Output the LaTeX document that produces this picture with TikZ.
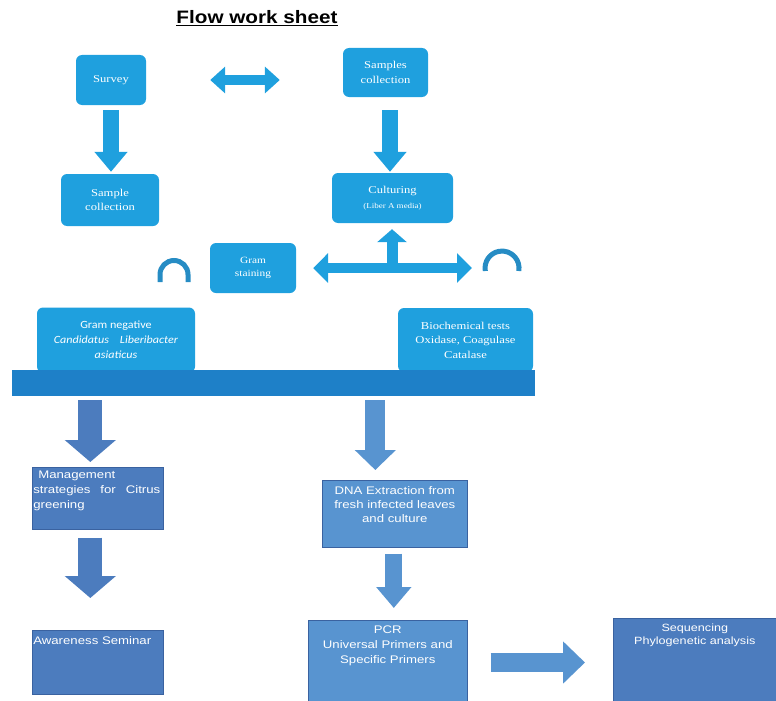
\documentclass[tikz,border=0pt]{standalone}
\usepackage{fontspec}
\setmainfont{Liberation Serif}
\newfontfamily\arialfont[FakeStretch=1.2]{Liberation Sans}
\newfontfamily\titlefont[FakeStretch=1.15]{Liberation Sans}
\newfontfamily\upfont[FakeStretch=1.2]{Liberation Serif}
\newfontfamily\califont[FakeStretch=1.1]{Carlito}
\usetikzlibrary{arrows.meta}

\definecolor{upblue}{RGB}{31,160,222}
\definecolor{barblue}{RGB}{30,128,200}
\definecolor{arcblue}{RGB}{38,140,196}
\definecolor{darkbox}{RGB}{76,124,190}
\definecolor{lightbox}{RGB}{88,148,208}
\definecolor{boxedge}{RGB}{58,98,160}

% text block placed at the top of a lower box
\newcommand{\blocktext}[3]{\parbox[c][#2][t]{#1}{\vspace{6pt}#3}}

\begin{document}
\begin{tikzpicture}[x=1pt,y=-1pt,>=Triangle,
  upbox/.style={fill=upblue,rounded corners=6pt,text=white,align=center,inner sep=0pt,
    font=\upfont\fontsize{10.5}{14.5}\selectfont},
  lowbox/.style={fill=#1,draw=boxedge,line width=0.6pt,text=white,inner sep=0pt,
    font=\arialfont\fontsize{11}{15}\selectfont},
  flat/.style={draw=upblue,line width=10pt},
  bigdown/.style={draw=darkbox,line width=24pt,-{Triangle[width=50pt,length=22pt]}},
  meddown/.style={draw=lightbox,line width=#1}]
\useasboundingbox (0,0) rectangle (776,701);

\node[font=\titlefont\bfseries\fontsize{18}{20}\selectfont] (title) at (257,18) {\underline{Flow work sheet}};

% upper part
\node[upbox,minimum width=70pt,minimum height=50pt] (survey) at (111,80) {Survey};
\node[upbox,minimum width=98pt,minimum height=52pt] (samp) at (110,200) {Sample\\collection};
\node[upbox,minimum width=85pt,minimum height=49pt] (samples) at (385.5,72.5) {Samples\\collection};
\node[upbox,minimum width=121pt,minimum height=50pt] (cult) at (392.5,198) {Culturing\\{\fontsize{7.5}{9}\selectfont (Liber A media)}};
\node[upbox,minimum width=86pt,minimum height=50pt,font=\upfont\fontsize{9.5}{13}\selectfont] (stain) at (253,268) {Gram\\staining};
\node[upbox,minimum width=158pt,minimum height=65pt,font=\califont\fontsize{11}{15}\selectfont] (gneg) at (116,340) {Gram negative\\\textit{Candidatus\quad Liberibacter}\\\textit{asiaticus}};
\node[upbox,minimum width=135pt,minimum height=64pt] (bio) at (465.5,340) {Biochemical tests\\Oxidase, Coagulase\\Catalase};
\node[fill=barblue,minimum width=523pt,minimum height=26pt,inner sep=0pt] (bar) at (273.5,383) {};

\draw[flat,-{Triangle[width=32pt,length=20pt]},line width=16pt,shorten <=5pt,shorten >=2pt]
  (survey.south) -- (survey.south |- samp.north);
\draw[flat,-{Triangle[width=32pt,length=20pt]},line width=16pt,shorten <=13pt,shorten >=1pt]
  ([xshift=4.5pt]samples.south) -- ([xshift=4.5pt]samples.south |- cult.north);
\draw[flat,{Triangle[width=26pt,length=15pt]}-{Triangle[width=26pt,length=15pt]},shorten <=64pt,shorten >=63pt]
  (survey.east) -- (survey.east -| samples.west);

\coordinate (rtip) at (472,268);
\coordinate (mid) at (392,268);
\draw[flat,{Triangle[width=29pt,length=15pt]}-{Triangle[width=29pt,length=15pt]},shorten <=17pt]
  (stain.east) -- (rtip);
\draw[flat,line width=11pt,-{Triangle[width=29pt,length=13pt]},shorten >=6pt]
  (mid) -- (mid |- cult.south);

% the two little arcs
\draw[arcblue,line width=5pt] (160,282) -- (160,274.5) arc[start angle=180,end angle=360,radius=14] -- (188,282);
\draw[arcblue,line width=5pt] (485.3,271) arc[start angle=170,end angle=370,radius=17];

% lower part
\node[lowbox=darkbox,anchor=north west] (mgmt) at (32,467)
  {\blocktext{131pt}{62pt}{\vspace{-2pt}\hspace*{6pt}Management\\\hspace*{1pt}\makebox[127pt][s]{strategies for Citrus}\\\hspace*{1pt}greening}};
\node[lowbox=darkbox,anchor=north west] (aware) at (32,630)
  {\blocktext{131pt}{64pt}{\hspace*{1pt}Awareness Seminar}};
\node[lowbox=lightbox,anchor=north west,font=\arialfont\fontsize{11}{14}\selectfont] (dna) at (322,480)
  {\blocktext{145pt}{67pt}{\centering DNA Extraction from\\fresh infected leaves\\and culture}};
\node[lowbox=lightbox,anchor=north west] (pcr) at (308,620)
  {\blocktext{159pt}{84pt}{\centering PCR\\Universal Primers and\\Specific Primers}};
\node[lowbox=darkbox,anchor=north west,font=\arialfont\fontsize{10.5}{13}\selectfont] (seq) at (613,618)
  {\blocktext{163pt}{86pt}{\centering Sequencing\\Phylogenetic analysis}};

\draw[bigdown,shorten <=4pt,shorten >=5pt]
  ([xshift=-7.5pt]mgmt.north |- bar.south) -- ([xshift=-7.5pt]mgmt.north);
\draw[bigdown,shorten <=8pt,shorten >=32pt]
  ([xshift=-7.5pt]mgmt.south) -- ([xshift=-7.5pt]aware.north);
\draw[meddown=20pt,-{Triangle[width=40pt,length=20pt]},shorten <=4pt,shorten >=10pt]
  ([xshift=-19.5pt]dna.north |- bar.south) -- ([xshift=-19.5pt]dna.north);
\draw[meddown=17pt,-{Triangle[width=34pt,length=21pt]},shorten <=6pt,shorten >=12pt]
  ([xshift=-1pt]dna.south) -- ([xshift=-1pt]dna.south |- pcr.north);
\draw[meddown=19pt,-{Triangle[width=41pt,length=22pt]},shorten <=23pt,shorten >=28pt]
  (pcr.east |- 0,662.5) -- (seq.west |- 0,662.5);
\end{tikzpicture}
\end{document}
